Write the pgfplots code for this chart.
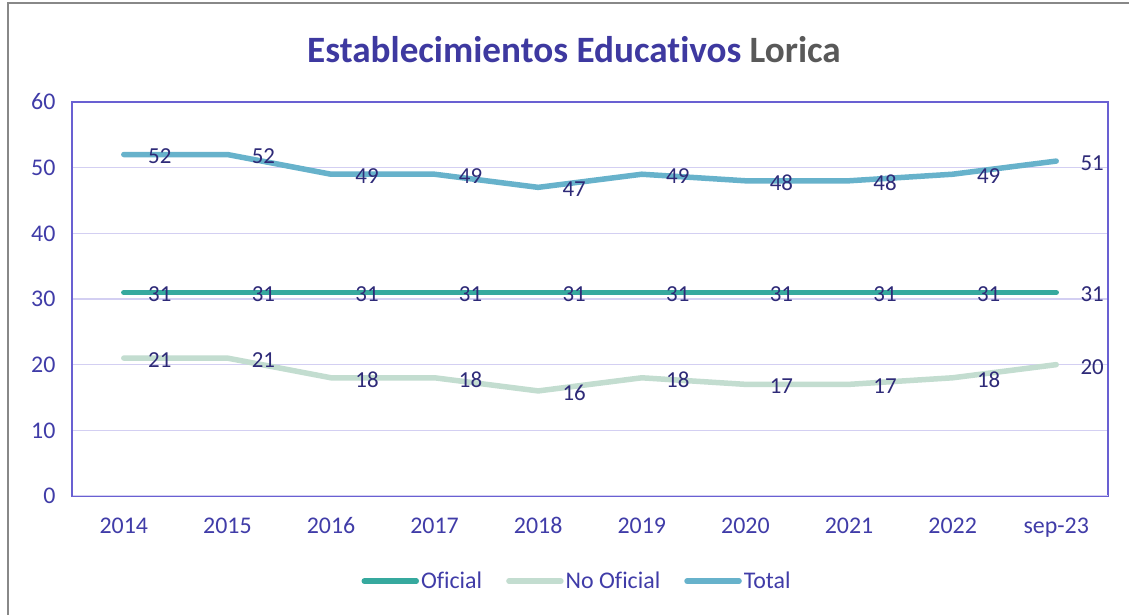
\documentclass[border=0pt]{standalone}
\usepackage{fontspec}
\setmainfont{Carlito}[Ligatures=NoCommon]
\usepackage{pgfplots}
\pgfplotsset{compat=1.18}
\definecolor{titleblue}{RGB}{62,57,160}
\definecolor{ticktext}{RGB}{64,60,168}
\definecolor{labeltext}{RGB}{46,42,120}
\definecolor{loricagray}{RGB}{89,89,89}
\definecolor{axispurple}{RGB}{105,96,210}
\definecolor{gridlav}{RGB}{211,207,242}
\definecolor{bordergray}{RGB}{136,136,136}
\definecolor{cOficial}{RGB}{54,169,158}
\definecolor{cNoOficial}{RGB}{195,221,208}
\definecolor{cTotal}{RGB}{103,178,203}
\begin{document}
\begin{tikzpicture}[x=1bp,y=1bp]
\useasboundingbox (0,0) rectangle (1129,615);
\fill[white] (0,0) rectangle (1129,615);
\draw[bordergray, line width=2.5bp] (8,-5) -- (8,612) -- (1140,612);
\node[font=\fontsize{37.3}{41}\selectfont\bfseries] at (574,565) {\textcolor{titleblue}{Establecimientos Educativos} \textcolor{loricagray}{Lorica}};
\begin{axis}[
  at={(72bp,119bp)}, anchor=south west,
  scale only axis, width=1036bp, height=394bp,
  xmin=-0.5, xmax=9.5, ymin=0, ymax=60,
  ytick={0,10,...,60}, xtick={0,...,9},
  xticklabels={2014,2015,2016,2017,2018,2019,2020,2021,2022,sep-23},
  ymajorgrids, grid style={gridlav, line width=1.3bp},
  axis line style={axispurple, line width=1.5bp},
  major tick length=0pt, tick style={draw=none},
  ticklabel style={font=\fontsize{24}{28}\selectfont, text=ticktext},
  /pgf/number format/assume math mode=true,
  yticklabel style={xshift=-13bp},
  xticklabel style={yshift=-18bp},
  legend style={at={(0.4875,-0.216)}, anchor=center, draw=none, fill=none,
    font=\fontsize{24}{28}\selectfont, text=ticktext,
    /tikz/every even column/.append style={column sep=22bp},
    inner sep=0pt, nodes={inner sep=2bp}},
  legend columns=3,
  legend image code/.code={\draw[#1, line width=5.5bp, line cap=round] (0bp,0bp) -- (52bp,0bp);},
  every axis plot/.append style={line width=5.5bp, line cap=round, line join=round},
  nodes near coords,
  nodes near coords align={anchor=center},
  every node near coord/.append style={xshift=36bp, yshift=-2bp, font=\fontsize{23}{27}\selectfont, text=labeltext},
]
\addplot[cOficial] coordinates {(0,31) (1,31) (2,31) (3,31) (4,31) (5,31) (6,31) (7,31) (8,31) (9,31)};
\addlegendentry{Oficial}
\addplot[cNoOficial] coordinates {(0,21) (1,21) (2,18) (3,18) (4,16) (5,18) (6,17) (7,17) (8,18) (9,20)};
\addlegendentry{No Oficial}
\addplot[cTotal] coordinates {(0,52) (1,52) (2,49) (3,49) (4,47) (5,49) (6,48) (7,48) (8,49) (9,51)};
\addlegendentry{Total}
\draw[gridlav, line width=2bp] (rel axis cs:0.001,0) -- (rel axis cs:1,0);
\end{axis}
\end{tikzpicture}
\end{document}
